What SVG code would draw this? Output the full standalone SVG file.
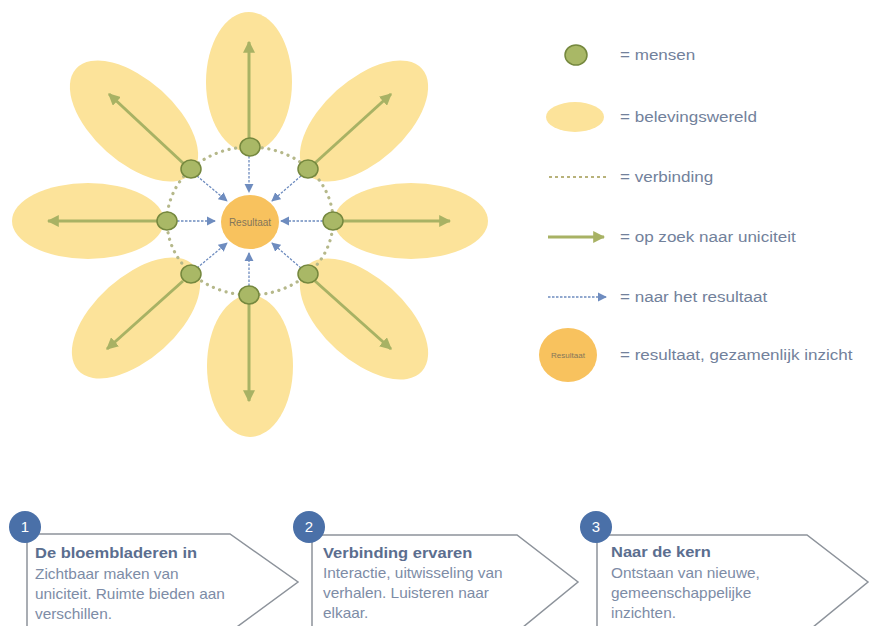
<svg xmlns="http://www.w3.org/2000/svg" width="870" height="626" viewBox="0 0 870 626">
<defs>
<style>
.petal{fill:#fce39a;}
.node{fill:#a9b866;stroke:#75883e;stroke-width:1.5;}
.ring{fill:none;stroke:#b5b88a;stroke-width:3.2;stroke-dasharray:0.1 6.6;stroke-linecap:round;}
.garrow{fill:none;stroke:#a8b264;stroke-width:3;marker-end:url(#gh);}
.barrow{fill:none;stroke:#6e8cbf;stroke-width:1.3;stroke-dasharray:2.5 1.5;marker-end:url(#bh);}
.res{fill:#f8c25e;}
.lt{font-family:"Liberation Sans",Arial,sans-serif;font-size:15.5px;fill:#72819b;}
.tt{font-family:"Liberation Sans",Arial,sans-serif;font-size:15px;font-weight:bold;fill:#5b6e8f;}
.bt{font-family:"Liberation Sans",Arial,sans-serif;font-size:14px;fill:#7d8ca6;}
.box{fill:none;stroke:#8d939b;stroke-width:1.5;}
.num{fill:#4a70a8;}
.nt{font-family:"Liberation Sans",Arial,sans-serif;font-size:15px;fill:#ffffff;text-anchor:middle;}
</style>
<marker id="gh" viewBox="0 0 10 10" refX="9" refY="5" markerWidth="4" markerHeight="4" orient="auto" markerUnits="strokeWidth">
<path d="M0,0 L10,5 L0,10 z" fill="#a8b264"/>
</marker>
<marker id="bh" viewBox="0 0 10 10" refX="9" refY="5" markerWidth="7" markerHeight="7" orient="auto" markerUnits="strokeWidth">
<path d="M0,0 L10,5 L0,10 z" fill="#6e8cbf"/>
</marker>
</defs>
<rect width="870" height="626" fill="#ffffff"/>

<g id="petals">
<ellipse id="petal-top" class="petal" cx="249" cy="82" rx="43" ry="70"/>
<ellipse id="petal-bottom" class="petal" cx="250" cy="366" rx="43" ry="71"/>
<ellipse id="petal-left" class="petal" cx="88" cy="221" rx="76" ry="38"/>
<ellipse id="petal-right" class="petal" cx="411" cy="221" rx="77" ry="38"/>
<ellipse id="petal-tl" class="petal" cx="0" cy="0" rx="78" ry="41" transform="translate(134,121) rotate(42)"/>
<ellipse id="petal-tr" class="petal" cx="0" cy="0" rx="78" ry="41" transform="translate(364,121) rotate(-42)"/>
<ellipse id="petal-bl" class="petal" cx="0" cy="0" rx="78" ry="41" transform="translate(136,318) rotate(-42)"/>
<ellipse id="petal-br" class="petal" cx="0" cy="0" rx="78" ry="41" transform="translate(364,319) rotate(42)"/>
</g>

<g id="connectors">
<ellipse id="ring" class="ring" cx="250" cy="221" rx="83" ry="74"/>
<line class="garrow" x1="249" y1="138" x2="249" y2="42"/>
<line class="garrow" x1="249" y1="304" x2="249" y2="401"/>
<line class="garrow" x1="157" y1="221" x2="48" y2="221"/>
<line class="garrow" x1="343" y1="221" x2="450" y2="221"/>
<line class="garrow" x1="183" y1="163" x2="109" y2="94"/>
<line class="garrow" x1="315" y1="163" x2="391" y2="94"/>
<line class="garrow" x1="183" y1="281" x2="107" y2="349"/>
<line class="garrow" x1="315" y1="281" x2="391" y2="349"/>
<line class="barrow" x1="249" y1="156" x2="249" y2="192"/>
<line class="barrow" x1="249" y1="286" x2="249" y2="253"/>
<line class="barrow" x1="177" y1="221" x2="215" y2="221"/>
<line class="barrow" x1="323" y1="221" x2="281" y2="221"/>
<line class="barrow" x1="197" y1="176" x2="227" y2="201"/>
<line class="barrow" x1="301" y1="176" x2="272" y2="201"/>
<line class="barrow" x1="197" y1="268" x2="227" y2="243"/>
<line class="barrow" x1="301" y1="268" x2="272" y2="243"/>
</g>

<g id="people">
<ellipse id="n-top" class="node" cx="250" cy="147" rx="10" ry="9"/>
<ellipse id="n-tl" class="node" cx="191" cy="169" rx="10" ry="9"/>
<ellipse id="n-tr" class="node" cx="308" cy="169" rx="10" ry="9"/>
<ellipse id="n-left" class="node" cx="167" cy="221" rx="10" ry="9"/>
<ellipse id="n-right" class="node" cx="333" cy="221" rx="10" ry="9"/>
<ellipse id="n-bl" class="node" cx="191" cy="274" rx="10" ry="9"/>
<ellipse id="n-br" class="node" cx="308" cy="274" rx="10" ry="9"/>
<ellipse id="n-bottom" class="node" cx="249" cy="295" rx="10" ry="9"/>
</g>

<g id="resultaat">
<ellipse class="res" cx="250" cy="222" rx="29" ry="27"/>
<text x="250" y="225.5" font-family="Liberation Sans, Arial, sans-serif" font-size="10" fill="#84765a" text-anchor="middle">Resultaat</text>
</g>

<g id="legend">
<g id="leg-mensen">
<ellipse class="node" cx="576" cy="55" rx="11" ry="10" stroke-width="1"/>
<text class="lt" transform="translate(620,60) scale(1.1,1)">= mensen</text>
</g>
<g id="leg-beleving">
<ellipse class="petal" cx="575" cy="117" rx="29" ry="15"/>
<text class="lt" transform="translate(620,122) scale(1.1,1)">= belevingswereld</text>
</g>
<g id="leg-verbinding">
<line x1="549" y1="177" x2="606" y2="177" stroke="#b8b27a" stroke-width="2" stroke-dasharray="3 3"/>
<text class="lt" transform="translate(620,182) scale(1.1,1)">= verbinding</text>
</g>
<g id="leg-uniciteit">
<line class="garrow" x1="548" y1="237" x2="604" y2="237"/>
<text class="lt" transform="translate(620,242) scale(1.1,1)">= op zoek naar uniciteit</text>
</g>
<g id="leg-resultaat-arrow">
<line class="barrow" x1="548" y1="297" x2="606" y2="297"/>
<text class="lt" transform="translate(620,302) scale(1.1,1)">= naar het resultaat</text>
</g>
<g id="leg-resultaat">
<ellipse class="res" cx="568" cy="355" rx="29" ry="27"/>
<text x="568" y="358" font-family="Liberation Sans, Arial, sans-serif" font-size="8" fill="#84765a" text-anchor="middle">Resultaat</text>
<text class="lt" transform="translate(620,360) scale(1.1,1)">= resultaat, gezamenlijk inzicht</text>
</g>
</g>

<g id="step1">
<path class="box" d="M27,632 L27,534 L230,534 L298,582 L230,632"/>
<circle class="num" cx="25" cy="527" r="16"/>
<text class="nt" x="25" y="532">1</text>
<g transform="translate(35,0) scale(1.1,1)">
<text class="tt" x="0" y="558">De bloembladeren in</text>
<text class="bt" x="0" y="579">Zichtbaar maken van</text>
<text class="bt" x="0" y="599">uniciteit. Ruimte bieden aan</text>
<text class="bt" x="0" y="619">verschillen.</text>
</g>
</g>

<g id="step2">
<path class="box" d="M312,632 L312,535 L517,535 L578,582 L517,632"/>
<circle class="num" cx="309" cy="527" r="16"/>
<text class="nt" x="309" y="532">2</text>
<g transform="translate(323,0) scale(1.1,1)">
<text class="tt" x="0" y="558">Verbinding ervaren</text>
<text class="bt" x="0" y="578">Interactie, uitwisseling van</text>
<text class="bt" x="0" y="598">verhalen. Luisteren naar</text>
<text class="bt" x="0" y="618">elkaar.</text>
</g>
</g>

<g id="step3">
<path class="box" d="M597,632 L597,535 L807,535 L868,582 L807,632"/>
<circle class="num" cx="596" cy="527" r="16"/>
<text class="nt" x="596" y="532">3</text>
<g transform="translate(611,0) scale(1.1,1)">
<text class="tt" x="0" y="557">Naar de kern</text>
<text class="bt" x="0" y="578">Ontstaan van nieuwe,</text>
<text class="bt" x="0" y="598">gemeenschappelijke</text>
<text class="bt" x="0" y="618">inzichten.</text>
</g>
</g>
</svg>
